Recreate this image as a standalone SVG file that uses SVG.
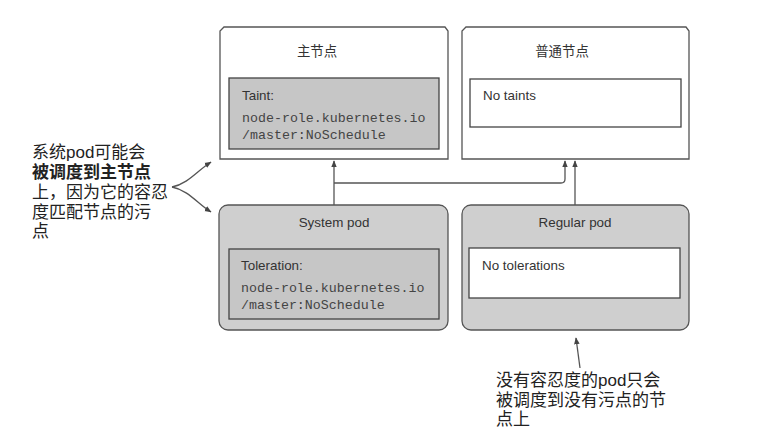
<svg xmlns="http://www.w3.org/2000/svg" width="763" height="438" viewBox="0 0 763 438">
<defs>
<style>
.box{fill:#fff;stroke:#555;stroke-width:1.3}
.gbox{fill:#cfcfcf;stroke:#555;stroke-width:1.3}
.ibox{fill:#c6c6c6;stroke:#444;stroke-width:1.3}
.wbox{fill:#fff;stroke:#444;stroke-width:1.3}
.t{font-family:"Liberation Sans","Noto Sans CJK SC",sans-serif;font-size:13.4px;fill:#333}
.m{font-family:"Liberation Mono",monospace;font-size:13.3px;fill:#444}
.a{font-family:"Liberation Sans","Noto Sans CJK SC",sans-serif;font-size:17px;fill:#222}
.ln{fill:none;stroke:#555;stroke-width:1.3}
</style>
<marker id="ah" viewBox="0 0 10 10" refX="9" refY="5" markerWidth="7" markerHeight="7" orient="auto-start-reverse" markerUnits="userSpaceOnUse">
<path d="M0,1 L10,5 L0,9 z" fill="#444"/>
</marker>
</defs>
<rect width="763" height="438" fill="#fff"/>
<g id="master-node">
<path class="box" d="M224,27 L445,27 L448,31 L448,159 L220,159 L220,31 Z"/>
<text class="t" x="317" y="56" text-anchor="middle">主节点</text>
<rect class="ibox" x="229" y="78" width="210" height="71"/>
<text class="t" x="242" y="100">Taint:</text>
<text class="m" x="242" y="122">node-role.kubernetes.io</text>
<text class="m" x="242" y="139">/master:NoSchedule</text>
</g>
<g id="regular-node">
<path class="box" d="M466,27 L686,27 L689,31 L689,159 L462,159 L462,31 Z"/>
<text class="t" x="562" y="56" text-anchor="middle">普通节点</text>
<rect class="wbox" x="470" y="79" width="211" height="48"/>
<text class="t" x="483" y="100">No taints</text>
</g>
<g id="system-pod">
<rect class="gbox" x="219" y="205" width="229" height="125" rx="9"/>
<text class="t" x="334" y="227" text-anchor="middle">System pod</text>
<rect class="ibox" x="229" y="249" width="210" height="70"/>
<text class="t" x="241" y="270">Toleration:</text>
<text class="m" x="241" y="292">node-role.kubernetes.io</text>
<text class="m" x="241" y="309">/master:NoSchedule</text>
</g>
<g id="regular-pod">
<rect class="gbox" x="462" y="205" width="227" height="125" rx="9"/>
<text class="t" x="575" y="227" text-anchor="middle">Regular pod</text>
<rect class="wbox" x="469" y="248" width="211" height="50"/>
<text class="t" x="482" y="270">No tolerations</text>
</g>
<g id="connectors">
<path class="ln" d="M334,205 L334,161" marker-end="url(#ah)"/>
<path class="ln" d="M334,183 L561,183 Q565,183 565,179 L565,161" marker-end="url(#ah)"/>
<path class="ln" d="M575,205 L575,161" marker-end="url(#ah)"/>
<path class="ln" d="M172,187 C188,184 198,170 211,162" marker-end="url(#ah)"/>
<path class="ln" d="M172,187 C188,190 198,204 211,212" marker-end="url(#ah)"/>
<path class="ln" d="M580,368 L576,338" marker-end="url(#ah)"/>
</g>
<g id="annotation-left">
<text class="a" x="32" y="158">系统pod可能会</text>
<text class="a" x="32" y="178" font-weight="bold">被调度到主节点</text>
<text class="a" x="32" y="198">上，因为它的容忍</text>
<text class="a" x="32" y="218">度匹配节点的污</text>
<text class="a" x="32" y="237">点</text>
</g>
<g id="annotation-bottom">
<text class="a" x="496" y="386">没有容忍度的pod只会</text>
<text class="a" x="496" y="406">被调度到没有污点的节</text>
<text class="a" x="496" y="425">点上</text>
</g>
</svg>
